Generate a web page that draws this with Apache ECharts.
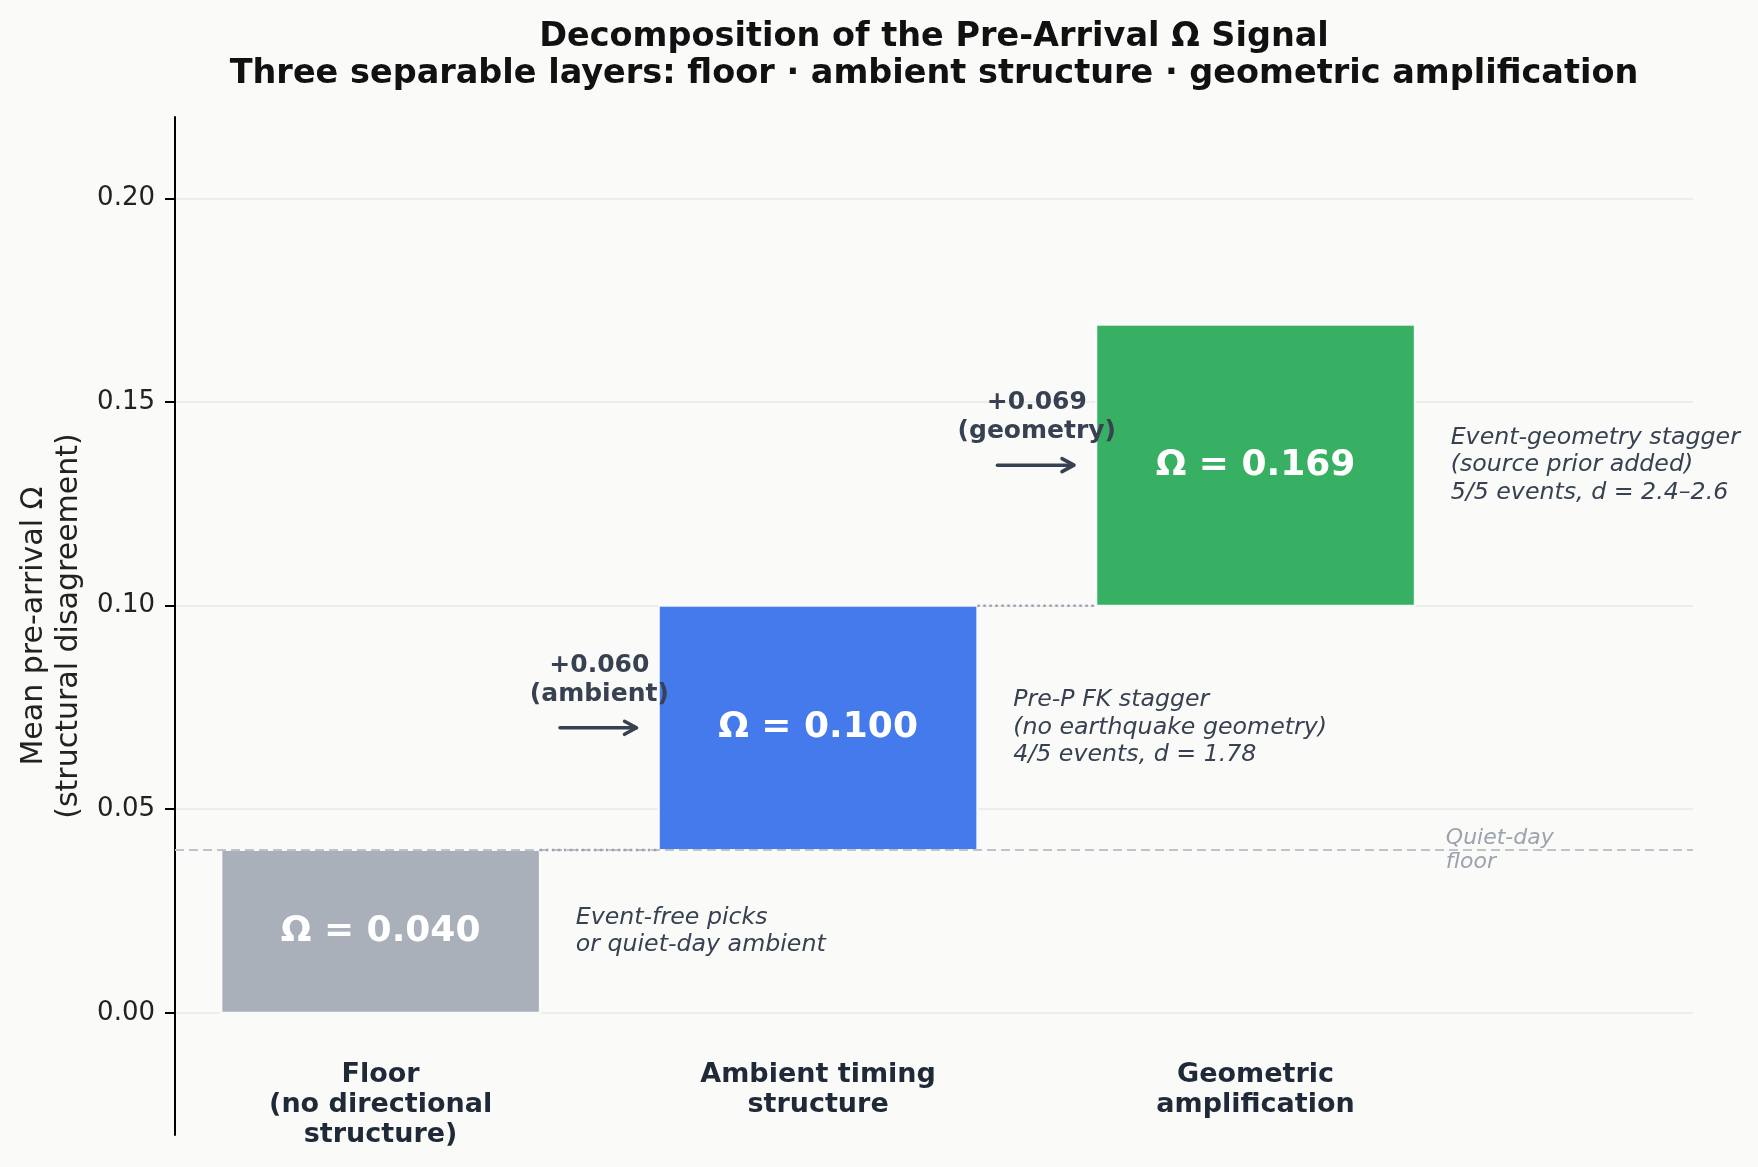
<!DOCTYPE html>
<html>
<head>
<meta charset="utf-8">
<title>Decomposition of the Pre-Arrival Ω Signal</title>
<script src="https://cdn.jsdelivr.net/npm/echarts@6/dist/echarts.min.js"></script>
<style>
    html, body { margin: 0; padding: 0; background: #fafaf8; }
    #chart { width: 1758px; height: 1167px; }
</style>
</head>
<body>
<div id="chart"></div>
<script>
// stage names, shown under each block
var stages = ['Floor\n(no directional\nstructure)', 'Ambient timing\nstructure', 'Geometric\namplification'];
// cumulative mean pre-arrival omega after each layer
var omega = [0.040, 0.100, 0.169];
var stepNames = ['', 'ambient', 'geometry'];
var stageNotes = [
    'Event-free picks\nor quiet-day ambient',
    'Pre-P FK stagger\n(no earthquake geometry)\n4/5 events, d = 1.78',
    'Event-geometry stagger\n(source prior added)\n5/5 events, d = 2.4\u20132.6'
];
var quietFloor = 0.04;
var yTicks = [0, 0.05, 0.10, 0.15, 0.20];

var stageColors = ['#aab0ba', '#457aed', '#38b064'];
var FONT = '"DejaVu Sans"';
var HALF = 0.364;

var myChart = echarts.init(document.getElementById('chart'));

// [index, bottom, top] for every block of the waterfall
var blocks = [];
for (var i = 0; i < omega.length; i++) {
    blocks.push([i, i === 0 ? 0 : omega[i - 1], omega[i]]);
}
var steps = blocks.slice(1);

function renderBlock(params, api) {
    var i = api.value(0), lo = api.value(1), hi = api.value(2);
    var a = api.coord([i - HALF, hi]);
    var b = api.coord([i + HALF, lo]);
    return {
        type: 'group',
        children: [{
            type: 'rect',
            shape: { x: a[0], y: a[1], width: b[0] - a[0], height: b[1] - a[1] },
            style: { fill: stageColors[i], stroke: 'rgba(255,255,255,0.9)', lineWidth: 2 }
        }, {
            type: 'text',
            x: (a[0] + b[0]) / 2,
            y: (a[1] + b[1]) / 2,
            style: {
                text: '\u03a9 = ' + hi.toFixed(3),
                fill: '#ffffff',
                font: 'bold 36px ' + FONT,
                align: 'center',
                verticalAlign: 'middle'
            }
        }]
    };
}

function renderConnector(params, api) {
    var i = api.value(0), lo = api.value(1);
    var s = api.coord([i - 1 + HALF, lo]);
    var e = api.coord([i - HALF, lo]);
    return {
        type: 'line',
        shape: { x1: s[0], y1: s[1], x2: e[0], y2: e[1] },
        style: { stroke: '#9ca3af', lineWidth: 2.5, lineDash: [2.5, 3.5] }
    };
}

function renderStep(params, api) {
    var i = api.value(0), lo = api.value(1), hi = api.value(2);
    var mid = (lo + hi) / 2;
    var s = api.coord([i - 0.59, mid]);
    var e = api.coord([i - 0.415, mid]);
    var c = api.coord([i - 0.5, mid]);
    return {
        type: 'group',
        children: [{
            type: 'line',
            shape: { x1: s[0], y1: s[1], x2: e[0] - 1, y2: e[1] },
            style: { stroke: '#374151', lineWidth: 3.5, lineCap: 'round' }
        }, {
            type: 'polyline',
            shape: { points: [[e[0] - 12, e[1] - 6.5], [e[0], e[1]], [e[0] - 12, e[1] + 6.5]] },
            style: { stroke: '#374151', lineWidth: 3.5, fill: null, lineCap: 'round', lineJoin: 'round' }
        }, {
            type: 'text',
            x: c[0],
            y: c[1] - 19,
            style: {
                text: '+' + (hi - lo).toFixed(3) + '\n(' + stepNames[i] + ')',
                fill: '#374151',
                font: 'bold 25px ' + FONT,
                lineHeight: 29,
                align: 'center',
                verticalAlign: 'bottom'
            }
        }]
    };
}

function renderNote(params, api) {
    var i = api.value(0), lo = api.value(1), hi = api.value(2);
    var p = api.coord([i + 0.446, (lo + hi) / 2]);
    return {
        type: 'text',
        x: p[0],
        y: p[1],
        style: {
            text: stageNotes[i],
            fill: '#374151',
            font: 'italic 23.7px ' + FONT,
            lineHeight: 27.5,
            align: 'left',
            verticalAlign: 'middle'
        }
    };
}

function renderStageName(params, api) {
    var i = api.value(0);
    var p = api.coord([i, -0.0115]);
    return {
        type: 'text',
        x: p[0],
        y: p[1],
        style: {
            text: stages[i],
            fill: '#1f2937',
            font: 'bold 27px ' + FONT,
            lineHeight: 30,
            align: 'center',
            verticalAlign: 'top'
        }
    };
}

function renderFloorNote(params, api) {
    var p = api.coord([2.435, api.value(1)]);
    return {
        type: 'text',
        x: p[0],
        y: p[1],
        style: {
            text: 'Quiet-day\nfloor',
            fill: '#9ca3af',
            font: 'italic 22px ' + FONT,
            lineHeight: 24,
            align: 'left',
            verticalAlign: 'middle'
        }
    };
}

var option = {
    backgroundColor: '#fafaf8',
    animation: false,
    title: {
        text: 'Decomposition of the Pre-Arrival \u03a9 Signal\nThree separable layers: floor \u00b7 ambient structure \u00b7 geometric amplification',
        left: 934,
        top: 19,
        padding: 0,
        textAlign: 'center',
        textStyle: {
            fontFamily: FONT,
            fontWeight: 'bold',
            fontSize: 33.5,
            lineHeight: 37,
            color: '#111111'
        }
    },
    grid: {
        left: 175,
        right: 65,
        top: 117,
        bottom: 32
    },
    xAxis: {
        type: 'value',
        min: -0.47,
        max: 3.0,
        show: false
    },
    yAxis: {
        type: 'value',
        min: -0.03,
        max: 0.22,
        name: 'Mean pre-arrival \u03a9\n(structural disagreement)',
        nameLocation: 'middle',
        nameRotate: 90,
        nameGap: 86,
        nameTextStyle: {
            fontFamily: FONT,
            fontSize: 30,
            lineHeight: 35,
            color: '#222222'
        },
        axisLine: {
            show: true,
            onZero: false,
            lineStyle: { color: '#000000', width: 2 }
        },
        axisTick: {
            show: true,
            length: 10,
            customValues: yTicks,
            lineStyle: { color: '#000000', width: 2 }
        },
        axisLabel: {
            customValues: yTicks,
            margin: 20,
            fontFamily: FONT,
            fontSize: 26,
            color: '#222222',
            formatter: function (v) {
                return v.toFixed(2);
            }
        },
        splitLine: {
            show: true,
            lineStyle: { color: '#e8e8e6', width: 1.5 }
        }
    },
    series: [{
        type: 'custom',
        name: 'floor line',
        data: [[0, quietFloor]],
        renderItem: renderFloorNote,
        clip: false,
        z: 3,
        markLine: {
            silent: true,
            symbol: 'none',
            label: { show: false },
            lineStyle: { color: '#bfc3ca', width: 2, type: [9, 5] },
            data: [{ yAxis: quietFloor }]
        }
    }, {
        type: 'custom',
        name: 'connectors',
        data: steps,
        renderItem: renderConnector,
        z: 6
    }, {
        type: 'custom',
        name: 'blocks',
        data: blocks,
        renderItem: renderBlock,
        z: 4
    }, {
        type: 'custom',
        name: 'steps',
        data: steps,
        renderItem: renderStep,
        clip: false,
        z: 5
    }, {
        type: 'custom',
        name: 'notes',
        data: blocks,
        renderItem: renderNote,
        clip: false,
        z: 5
    }, {
        type: 'custom',
        name: 'stage names',
        data: blocks,
        renderItem: renderStageName,
        clip: false,
        z: 5
    }]
};

myChart.setOption(option);
</script>
</body>
</html>
